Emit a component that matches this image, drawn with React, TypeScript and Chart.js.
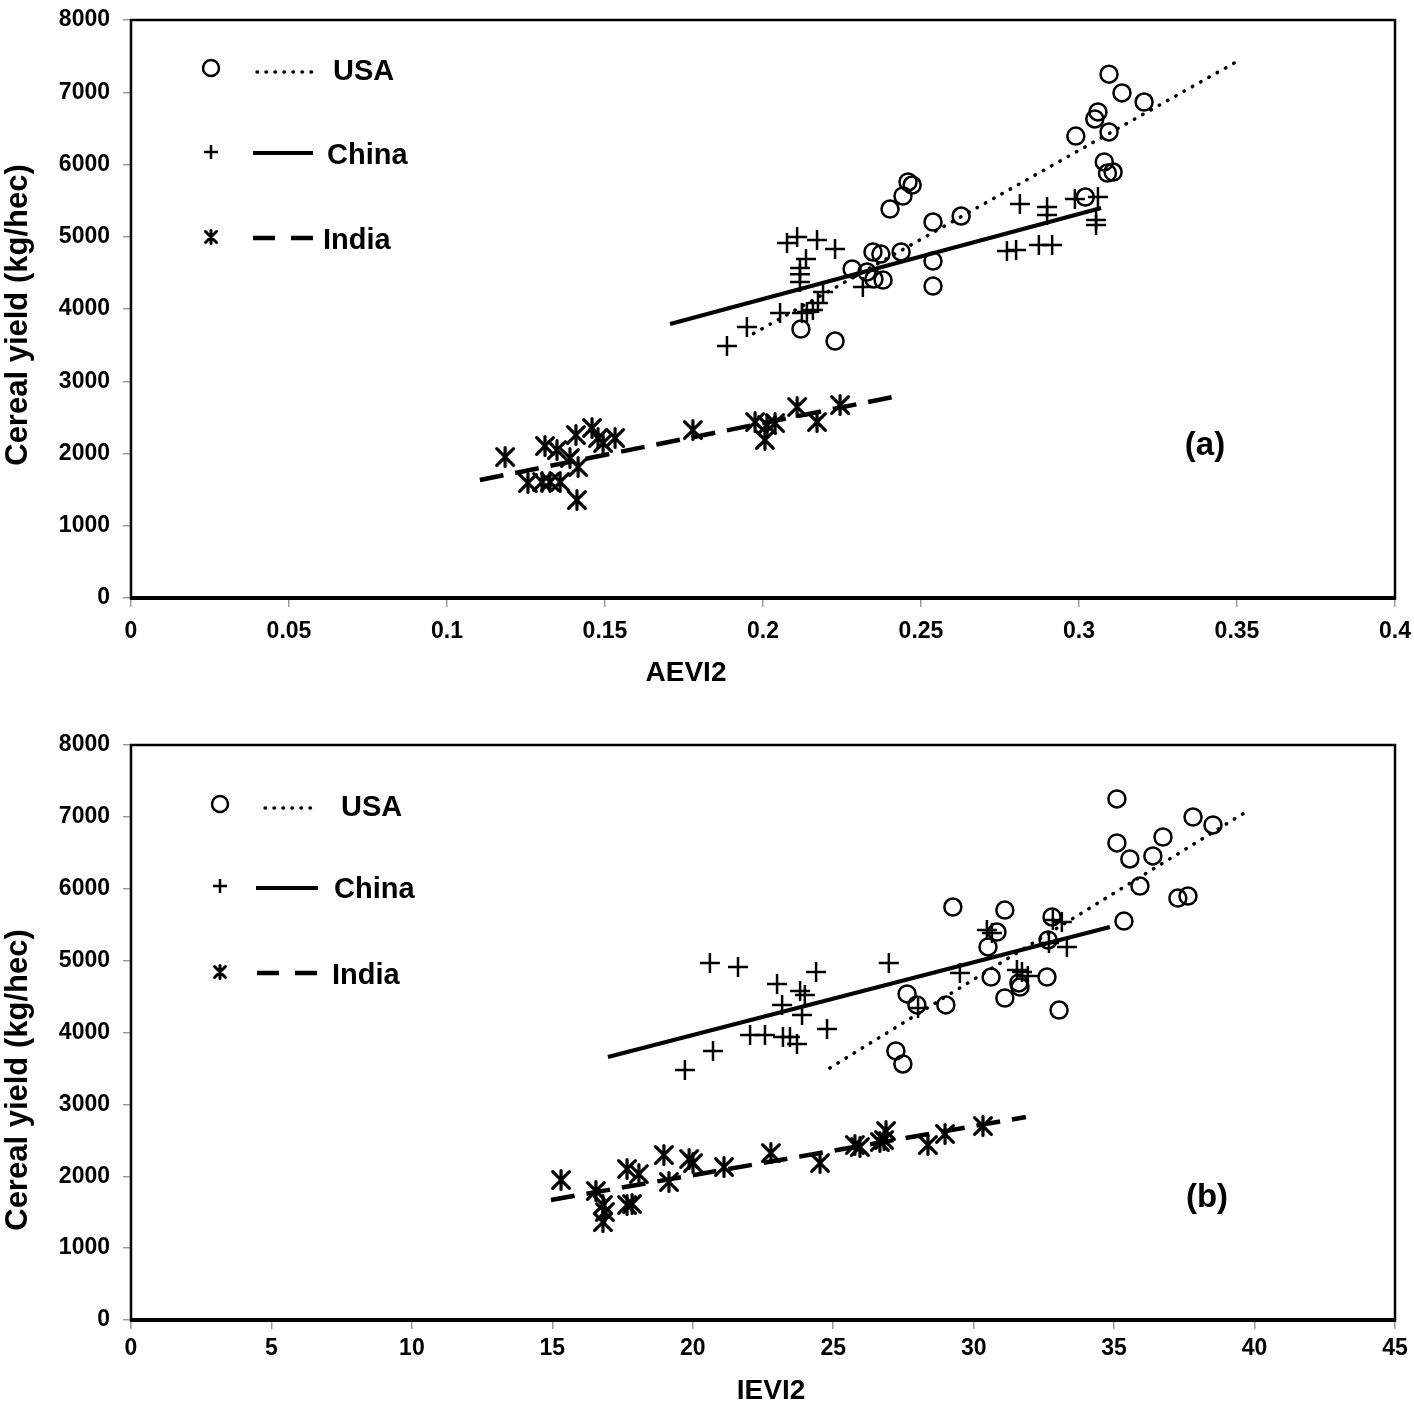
import React, { useEffect, useRef } from 'react';
import { Chart, registerables } from 'chart.js';

Chart.register(...registerables);

// ---------- Panel (a): AEVI2 ----------
const aUsaX = [0.3095, 0.3136, 0.3206, 0.306, 0.305, 0.299, 0.3095, 0.308, 0.309, 0.3108, 0.302, 0.2459, 0.2472, 0.2443, 0.2402, 0.2538, 0.2627, 0.2348, 0.2373, 0.2437, 0.2282, 0.2329, 0.2351, 0.238, 0.2538, 0.2538, 0.212, 0.2228];
const aUsaY = [7250, 6990, 6865, 6727, 6630, 6394, 6450, 6035, 5882, 5896, 5550, 5758, 5716, 5564, 5384, 5204, 5287, 4789, 4760, 4789, 4554, 4512, 4415, 4401, 4664, 4318, 3723, 3557];

const aChinaX = [0.2076, 0.2108, 0.2171, 0.2228, 0.2136, 0.2117, 0.2117, 0.2117, 0.2316, 0.219, 0.2174, 0.2158, 0.2139, 0.2123, 0.2054, 0.1949, 0.1886, 0.2813, 0.2899, 0.2899, 0.2987, 0.306, 0.3054, 0.3054, 0.2772, 0.2801, 0.2873, 0.2915];
const aChinaY = [4913, 4997, 4955, 4830, 4692, 4567, 4480, 4374, 4304, 4235, 4083, 3986, 3958, 3945, 3945, 3751, 3488, 5453, 5412, 5301, 5522, 5550, 5232, 5163, 4803, 4817, 4886, 4886];

const aIndiaX = [0.1184, 0.131, 0.1348, 0.1408, 0.1459, 0.1478, 0.1494, 0.1532, 0.1389, 0.1415, 0.1256, 0.1301, 0.1326, 0.1358, 0.1411, 0.1778, 0.1975, 0.2013, 0.2038, 0.2006, 0.2108, 0.2171, 0.2244];
const aIndiaY = [1952, 2104, 2048, 2256, 2353, 2215, 2145, 2215, 1938, 1813, 1592, 1606, 1606, 1606, 1356, 2325, 2436, 2394, 2422, 2187, 2644, 2436, 2671];

const aUsaTrendX = [0.197, 0.3497];
const aUsaTrendY = [3660, 7419];
const aChinaTrendX = [0.1706, 0.307];
const aChinaTrendY = [3792, 5398];
const aIndiaTrendX = [0.1104, 0.2411];
const aIndiaTrendY = [1633, 2782];

const aTicksX = [0, 0.05, 0.1, 0.15, 0.2, 0.25, 0.3, 0.35, 0.4];
const aTickLabelsX = ['0', '0.05', '0.1', '0.15', '0.2', '0.25', '0.3', '0.35', '0.4'];

// ---------- Panel (b): IEVI2 ----------
const bUsaX = [35.1, 35.1, 35.56, 36.74, 37.81, 38.52, 36.38, 35.92, 37.27, 37.63, 35.35, 29.26, 31.11, 32.79, 30.83, 30.51, 32.65, 30.62, 31.61, 31.65, 32.61, 31.11, 33.04, 27.63, 27.98, 29.01, 27.23, 27.48];
const bUsaY = [7249, 6637, 6414, 6720, 6998, 6887, 6456, 6038, 5871, 5899, 5551, 5746, 5704, 5607, 5398, 5190, 5287, 4772, 4689, 4633, 4772, 4480, 4313, 4536, 4383, 4383, 3743, 3562];

const bChinaX = [20.61, 21.61, 23.0, 23.82, 23.99, 23.18, 23.89, 24.39, 24.78, 22.04, 22.57, 23.21, 23.46, 23.71, 20.72, 19.72, 26.98, 29.51, 28.02, 30.47, 30.65, 31.54, 31.72, 31.93, 32.82, 33.14, 32.68, 33.32];
const bChinaY = [4967, 4911, 4675, 4577, 4522, 4383, 4243, 4842, 4049, 3965, 3965, 3937, 3937, 3840, 3743, 3478, 4967, 4828, 4341, 5426, 5384, 4870, 4842, 4786, 5565, 5537, 5245, 5190];

const bIndiaX = [15.31, 16.55, 16.8, 16.87, 16.8, 17.66, 17.84, 17.66, 18.08, 18.97, 19.15, 19.87, 20.01, 21.11, 22.78, 24.53, 25.77, 25.95, 26.66, 26.88, 26.81, 28.37, 28.98, 30.33];
const bIndiaY = [1948, 1795, 1600, 1503, 1363, 1600, 1614, 2101, 2031, 2296, 1920, 2240, 2184, 2129, 2323, 2184, 2435, 2407, 2477, 2630, 2504, 2435, 2588, 2699];

const bUsaTrendX = [24.88, 39.69];
const bUsaTrendY = [3506, 7068];
const bChinaTrendX = [16.98, 34.85];
const bChinaTrendY = [3659, 5468];
const bIndiaTrendX = [14.95, 31.86];
const bIndiaTrendY = [1670, 2824];

const bTicksX = [0, 5, 10, 15, 20, 25, 30, 35, 40, 45];
const bTickLabelsX = ['0', '5', '10', '15', '20', '25', '30', '35', '40', '45'];

const yTicks = [0, 1000, 2000, 3000, 4000, 5000, 6000, 7000, 8000];
const seriesNames = ['USA', 'China', 'India'];
const yTitle = 'Cereal yield (kg/hec)';

const FONT = '"Liberation Sans", Arial, sans-serif';

function zip(xs: number[], ys: number[]) {
  return xs.map((x, i) => ({ x, y: ys[i] }));
}

function makeStar(size: number, lw: number): HTMLCanvasElement {
  const c = document.createElement('canvas');
  c.width = size;
  c.height = size;
  const ctx = c.getContext('2d')!;
  ctx.strokeStyle = '#000';
  ctx.lineWidth = lw;
  ctx.lineCap = 'round';
  const m = lw / 2 + 1;
  ctx.beginPath();
  ctx.moveTo(m, m);
  ctx.lineTo(size - m, size - m);
  ctx.moveTo(size - m, m);
  ctx.lineTo(m, size - m);
  ctx.moveTo(size / 2, m - 1);
  ctx.lineTo(size / 2, size - m + 1);
  ctx.stroke();
  return c;
}

function drawStar(ctx: CanvasRenderingContext2D, x: number, y: number, r: number, lw: number) {
  ctx.save();
  ctx.strokeStyle = '#000';
  ctx.lineWidth = lw;
  ctx.lineCap = 'round';
  ctx.beginPath();
  ctx.moveTo(x - r, y - r);
  ctx.lineTo(x + r, y + r);
  ctx.moveTo(x + r, y - r);
  ctx.lineTo(x - r, y + r);
  ctx.moveTo(x, y - r - 1);
  ctx.lineTo(x, y + r + 1);
  ctx.stroke();
  ctx.restore();
}

const decorPlugin = {
  id: 'decor',
  beforeDatasetsDraw(chart: any) {
    const { ctx, chartArea } = chart;
    ctx.save();
    ctx.strokeStyle = '#000';
    ctx.lineWidth = 2.5;
    ctx.strokeRect(chartArea.left, chartArea.top, chartArea.right - chartArea.left, chartArea.bottom - chartArea.top);
    ctx.lineWidth = 4;
    ctx.beginPath();
    ctx.moveTo(chartArea.left - 1, chartArea.bottom);
    ctx.lineTo(chartArea.right + 1, chartArea.bottom);
    ctx.stroke();
    ctx.restore();
  },
  afterDraw(chart: any) {
    const o = chart.options.plugins.decor;
    if (!o) return;
    const ctx: CanvasRenderingContext2D = chart.ctx;
    ctx.save();
    ctx.fillStyle = '#000';
    ctx.strokeStyle = '#000';

    // y-axis title
    ctx.save();
    ctx.translate(o.yTitleX, o.yTitleY);
    ctx.rotate(-Math.PI / 2);
    ctx.font = `bold 31px ${FONT}`;
    ctx.textAlign = 'center';
    ctx.textBaseline = 'middle';
    ctx.fillText(yTitle, 0, 0);
    ctx.restore();

    // x-axis title
    ctx.font = `bold 28px ${FONT}`;
    ctx.textAlign = 'center';
    ctx.textBaseline = 'middle';
    ctx.fillText(o.xTitle, o.xTitleX, o.xTitleY);

    // panel label
    ctx.font = `bold 33px ${FONT}`;
    ctx.fillText(o.label, o.labelX, o.labelY);

    // legend
    ctx.font = `bold 29px ${FONT}`;
    ctx.textAlign = 'left';
    seriesNames.forEach((name, i) => {
      const y = o.legendY[i];
      const mx = o.markerX;
      ctx.save();
      ctx.lineWidth = 2.5;
      if (i === 0) {
        ctx.beginPath();
        ctx.arc(mx, y, 8, 0, Math.PI * 2);
        ctx.stroke();
      } else if (i === 1) {
        ctx.beginPath();
        ctx.moveTo(mx - 7, y);
        ctx.lineTo(mx + 7, y);
        ctx.moveTo(mx, y - 7);
        ctx.lineTo(mx, y + 7);
        ctx.stroke();
      } else {
        drawStar(ctx, mx, y, 5.5, 3);
      }
      ctx.restore();
      const ly = y + o.lineDy[i];
      ctx.save();
      ctx.beginPath();
      if (i === 0) {
        ctx.lineWidth = 3.5;
        ctx.lineCap = 'round';
        ctx.setLineDash([0.5, 8.5]);
      } else if (i === 1) {
        ctx.lineWidth = 4;
        ctx.setLineDash([]);
      } else {
        ctx.lineWidth = 4.5;
        ctx.setLineDash([22, 16]);
      }
      ctx.moveTo(o.lineX1[i], ly);
      ctx.lineTo(o.lineX2, ly);
      ctx.stroke();
      ctx.restore();
      ctx.fillText(name, o.textX[i], y + o.textDy);
    });
    ctx.restore();
  },
};

function buildChart(canvas: HTMLCanvasElement, p: any) {
  const star = makeStar(22, 3.2);
  const tickFont = { family: FONT, size: 23, weight: 'bold' as const };
  return new Chart(canvas, {
    type: 'scatter',
    data: {
      datasets: [
        {
          label: 'USA trend',
          data: zip(p.usaTrendX, p.usaTrendY),
          showLine: true,
          pointRadius: 0,
          borderColor: '#000',
          borderWidth: 3.5,
          borderDash: [0.5, 9],
          borderCapStyle: 'round',
        },
        {
          label: 'China trend',
          data: zip(p.chinaTrendX, p.chinaTrendY),
          showLine: true,
          pointRadius: 0,
          borderColor: '#000',
          borderWidth: 4,
        },
        {
          label: 'India trend',
          data: zip(p.indiaTrendX, p.indiaTrendY),
          showLine: true,
          pointRadius: 0,
          borderColor: '#000',
          borderWidth: 4.5,
          borderDash: [24, 12],
        },
        {
          label: 'USA',
          data: zip(p.usaX, p.usaY),
          pointStyle: 'circle',
          pointRadius: 8.5,
          borderWidth: 2.5,
          borderColor: '#000',
          backgroundColor: 'rgba(0,0,0,0)',
        },
        {
          label: 'China',
          data: zip(p.chinaX, p.chinaY),
          pointStyle: 'cross',
          pointRadius: 10,
          borderWidth: 2.5,
          borderColor: '#000',
          backgroundColor: '#000',
        },
        {
          label: 'India',
          data: zip(p.indiaX, p.indiaY),
          pointStyle: star,
          pointRadius: 11,
          borderColor: '#000',
          backgroundColor: '#000',
        },
      ],
    },
    options: {
      responsive: false,
      animation: false,
      devicePixelRatio: 1,
      layout: { padding: { top: p.padTop, right: 19, left: 0, bottom: 0 } },
      plugins: {
        legend: { display: false },
        tooltip: { enabled: false },
        decor: p.decor,
      } as any,
      scales: {
        x: {
          type: 'linear',
          min: p.xTicks[0],
          max: p.xTicks[p.xTicks.length - 1],
          afterBuildTicks: (s: any) => {
            s.ticks = p.xTicks.map((v: number) => ({ value: v }));
          },
          afterFit: (s: any) => {
            s.height = p.xAxisHeight;
            s.paddingLeft = 0;
            s.paddingRight = 0;
          },
          ticks: {
            autoSkip: false,
            maxRotation: 0,
            color: '#000',
            font: tickFont,
            padding: p.xTickPad,
            callback: (_v: any, i: number) => p.xLabels[i],
          },
          grid: { drawOnChartArea: false, drawTicks: true, tickLength: 9, color: '#9a9a9a', lineWidth: 1.5 },
          border: { display: false },
        },
        y: {
          type: 'linear',
          min: 0,
          max: 8000,
          afterBuildTicks: (s: any) => {
            s.ticks = yTicks.map((v) => ({ value: v }));
          },
          afterFit: (s: any) => {
            s.width = 131;
            s.paddingTop = 0;
            s.paddingBottom = 0;
          },
          ticks: {
            color: '#000',
            font: tickFont,
            padding: 13,
            callback: (v: any) => String(v),
          },
          grid: { drawOnChartArea: false, drawTicks: true, tickLength: 8, color: '#9a9a9a', lineWidth: 1.5 },
          border: { display: false },
        },
      },
    },
    plugins: [decorPlugin],
  } as any);
}

export default function App() {
  const refA = useRef<HTMLCanvasElement>(null);
  const refB = useRef<HTMLCanvasElement>(null);

  useEffect(() => {
    const chartA = buildChart(refA.current!, {
      usaX: aUsaX, usaY: aUsaY, chinaX: aChinaX, chinaY: aChinaY, indiaX: aIndiaX, indiaY: aIndiaY,
      usaTrendX: aUsaTrendX, usaTrendY: aUsaTrendY,
      chinaTrendX: aChinaTrendX, chinaTrendY: aChinaTrendY,
      indiaTrendX: aIndiaTrendX, indiaTrendY: aIndiaTrendY,
      xTicks: aTicksX, xLabels: aTickLabelsX,
      padTop: 20, xAxisHeight: 102, xTickPad: 11,
      decor: {
        yTitleX: 18, yTitleY: 315,
        xTitle: 'AEVI2', xTitleX: 686, xTitleY: 673,
        label: '(a)', labelX: 1205, labelY: 446,
        markerX: 211, legendY: [68, 152, 237], lineDy: [4, 1, 1],
        lineX1: [257, 253, 253], lineX2: 313,
        textX: [333, 327, 323], textDy: 4,
      },
    });
    const chartB = buildChart(refB.current!, {
      usaX: bUsaX, usaY: bUsaY, chinaX: bChinaX, chinaY: bChinaY, indiaX: bIndiaX, indiaY: bIndiaY,
      usaTrendX: bUsaTrendX, usaTrendY: bUsaTrendY,
      chinaTrendX: bChinaTrendX, chinaTrendY: bChinaTrendY,
      indiaTrendX: bIndiaTrendX, indiaTrendY: bIndiaTrendY,
      xTicks: bTicksX, xLabels: bTickLabelsX,
      padTop: 45, xAxisHeight: 85, xTickPad: 6,
      decor: {
        yTitleX: 18, yTitleY: 380,
        xTitle: 'IEVI2', xTitleX: 771, xTitleY: 691,
        label: '(b)', labelX: 1207, labelY: 498,
        markerX: 220, legendY: [104, 186, 272], lineDy: [4, 2, 1],
        lineX1: [265, 256, 257], lineX2: 318,
        textX: [341, 334, 332], textDy: 4,
      },
    });
    return () => {
      chartA.destroy();
      chartB.destroy();
    };
  }, []);

  return (
    <div style={{ position: 'absolute', left: 0, top: 0, width: 1414, height: 1405, background: '#fff', overflow: 'hidden' }}>
      <canvas ref={refA} width={1414} height={700} style={{ position: 'absolute', left: 0, top: 0, width: 1414, height: 700, display: 'block' }} />
      <canvas ref={refB} width={1414} height={705} style={{ position: 'absolute', left: 0, top: 700, width: 1414, height: 705, display: 'block' }} />
    </div>
  );
}
